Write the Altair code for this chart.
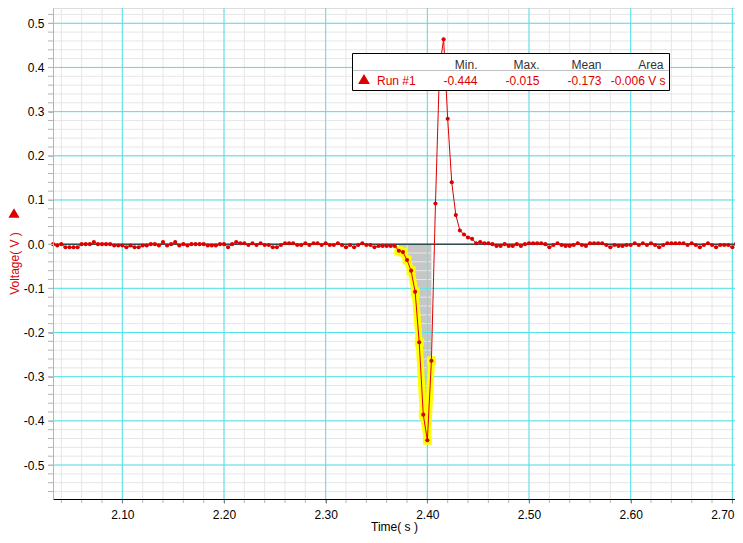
import altair as alt
import numpy as np
import pandas as pd

# ---------------- data ----------------
T0 = 2.032      # first sample time (s)
DT = 0.004      # sampling interval (s)

# baseline before the pulse, 2.032 ... 2.204
v_left = [0, -0.003, 0, -0.007, -0.007, -0.007, -0.007, 0, 0, 0,
          0.005, 0, 0, 0, 0, -0.003, -0.003, -0.003, -0.007, -0.003,
          -0.007, -0.007, -0.003, -0.003, 0, 0, -0.003, 0.005, -0.003, 0,
          0.005, -0.003, 0, -0.003, 0, 0, 0, 0, -0.003, -0.003,
          -0.003, 0, 0, -0.007]
# baseline 2.208 ... 2.368
v_mid = [0, 0.005, 0.002, 0.002, -0.002, 0.002, -0.002, 0.002, -0.002, -0.002,
         -0.007, -0.007, -0.002, 0.002, 0.002, 0.002, -0.002, -0.002, 0.002, -0.002,
         0.002, 0.002, -0.002, 0.002, -0.002, -0.002, 0.002, -0.002, -0.007, -0.002,
         -0.007, -0.002, 0.002, -0.002, -0.002, -0.007, -0.004, -0.004, -0.004, -0.004,
         -0.004]
# pulse 2.372 ... 2.448
v_pulse = [-0.015, -0.018, -0.036, -0.060, -0.108, -0.222, -0.386, -0.444, -0.264, 0.092,
           0.400, 0.464, 0.284, 0.140, 0.066, 0.031, 0.022, 0.015, 0.012, 0.002]
# baseline after the pulse 2.452 ... 2.704
v_right = [0.005, 0.002, 0.002, 0, -0.004, -0.004, 0, -0.004, -0.004, 0,
           -0.004, 0, 0.002, 0.002, 0.002, 0.002, 0, -0.007, -0.002, 0.002,
           -0.002, -0.004, -0.004, -0.002, 0.002, -0.002, -0.004, 0.002, 0.002, 0.002,
           0.002, -0.002, -0.007, -0.002, -0.004, -0.004, -0.002, -0.002, 0.002, -0.002,
           0.002, -0.002, 0.002, -0.002, -0.007, -0.002, 0.002, 0.002, 0.002, 0.002,
           0.002, -0.002, 0.002, -0.002, -0.007, -0.002, 0.002, -0.002, -0.007, -0.002,
           -0.002, -0.002, -0.007, 0.002]

SEL_START, SEL_END = 2.372, 2.404   # selected (highlighted) region

x_major = [2.10, 2.20, 2.30, 2.40, 2.50, 2.60, 2.70]
y_major = [-0.5, -0.4, -0.3, -0.2, -0.1, 0.0, 0.1, 0.2, 0.3, 0.4, 0.5]

volts = v_left + v_mid + v_pulse + v_right
times = [round(T0 + DT * i, 3) for i in range(len(volts))]
df = pd.DataFrame({"t": times, "v": volts})
sel = df[(df.t >= SEL_START - 1e-9) & (df.t <= SEL_END + 1e-9)].copy()

vmin = sel.v.min()
vmax = sel.v.max()
vmean = sel.v.mean()
varea = float(np.trapezoid(sel.v.values, sel.t.values))

def fmt(x):
    return f"{x:.3f}"

x_minor = [float(round(v, 2)) for v in np.arange(2.04, 2.7001, 0.02)]
y_minor = [float(round(v, 2)) + 0.0 for v in np.arange(-0.56, 0.5201, 0.02)]

# ---------------- style ----------------
RED = "#dc0000"
CYAN = "#52e2ea"
MINOR = "#e6e6e6"
FONT = "Liberation Sans"
W, H = 682, 491

xs = alt.Scale(domain=[2.0318, 2.7026], nice=False, zero=False)
ys = alt.Scale(domain=[-0.5769, 0.5346], nice=False, zero=False)

MINUS = "\u2212"
x_axis = alt.Axis(
    values=x_major, grid=False, zindex=1,
    labelExpr=f"replace(format(datum.value, '.2f'), '{MINUS}', '-')",
    labelOverlap=False, labelFlush=False,
    labelOffset={"condition": {"test": "datum.value > 2.65", "value": -10}, "value": 0},
    labelFont=FONT, labelFontSize=12, labelColor="black", labelPadding=6,
    tickColor="#808080", tickSize=4, domainColor="black", domainWidth=1,
    title="Time( s )", titleFont=FONT, titleFontSize=12, titleFontWeight="normal",
    titleColor="black", titlePadding=1,
)
y_axis = alt.Axis(
    values=y_major, grid=False, zindex=1,
    labelExpr=f"replace(format(datum.value, '.1f'), '{MINUS}', '-')",
    labelOverlap=False, labelFlush=False,
    labelFont=FONT, labelFontSize=12, labelColor="black", labelPadding=4,
    tickColor="#b4b4b4", tickSize=5, domainColor="#b4b4b4", domainWidth=1,
    title="Voltage( V )", titleFont=FONT, titleFontSize=12, titleFontWeight="normal",
    titleColor=RED, titleAngle=270, titleX=-39, titleY=255,
    titleAlign="center", titleBaseline="middle",
)

def X(f):
    return alt.X(f, scale=xs)

def Y(f):
    return alt.Y(f, scale=ys)

# ---------------- layers ----------------
# the main layer carries the axes
line = alt.Chart(df).mark_line(color=RED, strokeWidth=1).encode(
    x=alt.X("t:Q", scale=xs, axis=x_axis), y=alt.Y("v:Q", scale=ys, axis=y_axis))

area = alt.Chart(sel).mark_area(color="#c6c6c6", opacity=1).encode(
    x=X("t:Q"), y=Y("v:Q"), y2=alt.datum(0))

gx_minor = alt.Chart(pd.DataFrame({"t": x_minor})).mark_rule(color=MINOR, strokeWidth=1).encode(x=X("t:Q"))
gy_minor = alt.Chart(pd.DataFrame({"v": y_minor})).mark_rule(color=MINOR, strokeWidth=1).encode(y=Y("v:Q"))
gx_major = alt.Chart(pd.DataFrame({"t": x_major})).mark_rule(color=CYAN, strokeWidth=1).encode(x=X("t:Q"))
gy_major = alt.Chart(pd.DataFrame({"v": y_major})).mark_rule(color=CYAN, strokeWidth=1).encode(y=Y("v:Q"))
zero = alt.Chart(pd.DataFrame({"v": [0.0]})).mark_rule(color="black", strokeWidth=1).encode(y=Y("v:Q"))

# minor tick marks outside the plot area
tx_minor = alt.Chart(pd.DataFrame({"t": x_minor})).mark_rule(color="#b4b4b4", strokeWidth=1).encode(
    x=X("t:Q"), y=alt.value(H), y2=alt.value(H + 4))
ty_minor = alt.Chart(pd.DataFrame({"v": y_minor})).mark_rule(color="#b4b4b4", strokeWidth=1).encode(
    y=Y("v:Q"), x=alt.value(-5), x2=alt.value(0))

hl_line = alt.Chart(sel).mark_line(color="#ffff00", strokeWidth=7, strokeCap="square").encode(
    x=X("t:Q"), y=Y("v:Q"))
hl_pts = alt.Chart(sel).mark_square(color="#ffff00", size=80, opacity=1).encode(
    x=X("t:Q"), y=Y("v:Q"))

pts = alt.Chart(df).mark_circle(color=RED, size=17, opacity=1).encode(
    x=X("t:Q"), y=Y("v:Q"))

# ---------------- stats box (annotation) ----------------
one = pd.DataFrame({"a": [0]})
box = alt.Chart(one).mark_rect(fill="white", stroke="black", strokeWidth=1).encode(
    x=alt.value(299.5), x2=alt.value(616.5), y=alt.value(45.5), y2=alt.value(82.5))
sep = alt.Chart(one).mark_rule(color="#c0c0c0", strokeWidth=1).encode(
    x=alt.value(300), x2=alt.value(616), y=alt.value(62.5))

col_x = [424.5, 486.5, 548.5, 610.5]
hdr = pd.DataFrame({"txt": ["Min.", "Max.", "Mean", "Area"], "px": col_x})
vals = pd.DataFrame({"txt": [fmt(vmin), fmt(vmax), fmt(vmean), fmt(varea) + " V s"],
                     "px": col_x[:3] + [612.5]})
hdr_t = alt.Chart(hdr).mark_text(align="right", baseline="alphabetic", font=FONT, fontSize=12,
                                 color="#333333").encode(
    x=alt.X("px:Q", scale=None), y=alt.value(60.5), text="txt:N")
val_t = alt.Chart(vals).mark_text(align="right", baseline="alphabetic", font=FONT, fontSize=12,
                                  color=RED).encode(
    x=alt.X("px:Q", scale=None), y=alt.value(77), text="txt:N")
run_t = alt.Chart(pd.DataFrame({"txt": ["Run #1"]})).mark_text(
    align="left", baseline="alphabetic", font=FONT, fontSize=12, color=RED).encode(
    x=alt.value(324), y=alt.value(77), text="txt:N")
tri_legend = alt.Chart(one).mark_point(shape="triangle-up", filled=True, size=140, color=RED,
                                       opacity=1).encode(x=alt.value(311), y=alt.value(71))
tri_axis = alt.Chart(one).mark_point(shape="triangle-up", filled=True, size=125, color=RED,
                                     opacity=1).encode(x=alt.value(-39), y=alt.value(205))

chart = alt.layer(
    area, gx_minor, gy_minor, gx_major, gy_major, zero, tx_minor, ty_minor,
    hl_line, hl_pts, line, pts,
    box, sep, hdr_t, val_t, run_t, tri_legend, tri_axis,
).properties(
    width=W, height=H,
    autosize=alt.AutoSizeParams(type="none"),
    padding={"left": 45, "top": 0, "right": 0, "bottom": 36},
).configure_view(
    stroke="black", strokeWidth=1
).configure_axis(
    labelOverlap=False
).configure(
    font=FONT, background="white"
)

chart.save("out.html", embed_options={"renderer": "svg", "actions": False})
